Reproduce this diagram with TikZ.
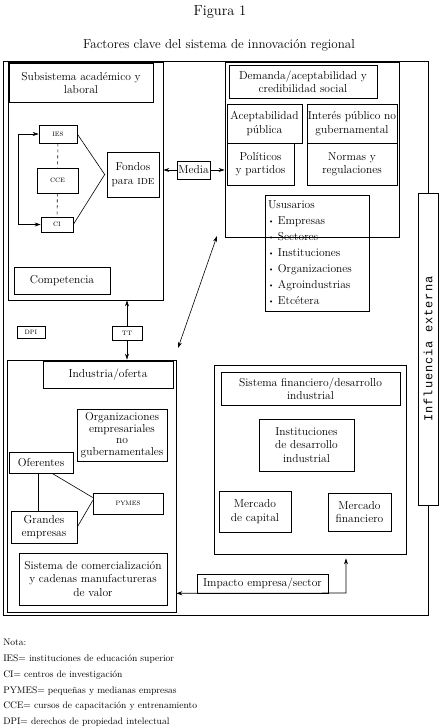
\documentclass[tikz,border=0pt]{standalone}
\usepackage{fontspec}
\newfontfamily\influfont[LetterSpace=8]{Liberation Mono}
\usetikzlibrary{arrows.meta}
\newcommand{\punto}{\raisebox{1.6pt}{\fontsize{7}{7}\selectfont\textbullet}}

\begin{document}
\begin{tikzpicture}[x=1pt,y=-1pt,
  >={Stealth[length=6pt,width=4pt]},
  every path/.style={line width=0.6pt},
  caja/.style={draw,line width=0.6pt,inner sep=0.5pt,align=center,
    font=\fontsize{11.5}{13.5}\selectfont},
  sigla/.style={draw,line width=0.6pt,inner sep=1pt,
    font=\fontsize{8.5}{9}\selectfont},
  marco/.style={draw,line width=0.7pt,inner sep=0pt}]

\useasboundingbox (0,0) rectangle (445,726);

% titulos
\node[font=\fontsize{14.5}{16}\selectfont] (fig) at (220,12) {Figura 1};
\node[font=\fontsize{13}{15}\selectfont] (tit) at (219,45)
      {Factores clave del sistema de innovaci\'on regional};

% influencia externa y marco exterior
\node[caja,minimum width=20,minimum height=312]
      (influ) at (428,349) {\rotatebox{90}{\fontsize{12}{12}\influfont Influencia externa}};
\coordinate (esqA) at (428,61);
\coordinate (esqB) at (3,61);
\coordinate (esqC) at (3,615);
\coordinate (esqD) at (428,615);
\draw (influ.north) -- (esqA) -- (esqB) -- (esqC) -- (esqD) -- (influ.south);

% subsistema academico
\node[marco,minimum width=155,minimum height=238] (acad) at (85.5,181) {};
\node[caja,minimum width=144,minimum height=39]
      (acadt) at (81,83) {Subsistema acad\'emico y\\laboral};
\node[sigla,minimum width=38,minimum height=18] (ies) at (58,134) {\textsc{ies}};
\node[sigla,minimum width=41,minimum height=25] (cce) at (57.5,180.5) {\textsc{cce}};
\node[sigla,minimum width=32,minimum height=15] (ci) at (57,224.5) {\textsc{ci}};
\node[caja,minimum width=52,minimum height=45]
      (fondos) at (133,174.5) {Fondos\\para \textsc{ide}};
\node[caja,minimum width=96,minimum height=27]
      (comp) at (62,280.5) {Competencia};

\coordinate (vert) at ([xshift=-2pt]fondos.west);
\draw[dashed] (ies) -- (cce);
\draw[dashed] (cce) -- (ci);
\draw (ies.east) -- (vert) -- (ci.east);
\draw[<->] (ies.west) -- ++(-20,0) |- (ci.west);

% demanda
\node[marco,minimum width=174,minimum height=175] (dem) at (312,149.5) {};
\node[caja,minimum width=148,minimum height=33]
      (demt) at (303,81.5) {Demanda/aceptabilidad y\\credibilidad social};
\node[caja,minimum width=75,minimum height=39]
      (acep) at (264.5,123.5) {Aceptabilidad\\p\'ublica};
\node[caja,minimum width=90,minimum height=39]
      (inter) at (352,123.5) {Inter\'es p\'ublico no\\gubernamental};
\node[caja,minimum width=67,minimum height=42]
      (poli) at (260.5,164) {Pol\'iticos\\y partidos};
\node[caja,minimum width=90,minimum height=42]
      (normas) at (352,164) {Normas y\\regulaciones};
\node[caja,align=left,text width=99,minimum height=116,inner sep=2.5pt,
      font=\fontsize{11.5}{16}\selectfont]
      (usu) at (317.5,253) {Ususarios\\\punto{} Empresas\\\punto{} Sectores\\
      \punto{} Instituciones\\\punto{} Organizaciones\\
      \punto{} Agroindustrias\\\punto{} Etc\'etera};

% media
\node[caja,minimum width=33,minimum height=18] (media) at (193.5,170) {Media};
\draw[->] (media.west) -- (acad.east |- media.west);
\draw[->] (media.east) -- (dem.west |- media.east);

% enlace diagonal
\coordinate (diagA) at (217,236);
\coordinate (diagB) at (178,348);
\draw[<->] (diagA) -- (diagB);

% TT y DPI
\node[sigla,minimum width=30,minimum height=14] (tt) at (127,333) {\textsc{tt}};
\node[sigla,minimum width=28,minimum height=12] (dpi) at (31,332.5) {\textsc{dpi}};

% industria
\node[marco,minimum width=169,minimum height=252] (indus) at (91.5,486) {};
\draw[->] (tt.north) -- (acad.south -| tt.north);
\draw[->] (tt.south) -- (indus.north -| tt.south);
\node[caja,minimum width=130,minimum height=27]
      (indust) at (108,374.5) {Industria/oferta};
\node[caja,minimum width=90,minimum height=52,font=\fontsize{11.5}{11.7}\selectfont]
      (org) at (122,435) {Organizaciones\\empresariales\\no\\gubernamentales};
\node[caja,minimum width=64,minimum height=21] (ofer) at (41,462.5) {Oferentes};
\node[caja,minimum width=66,minimum height=32]
      (grandes) at (44,527) {Grandes\\empresas};
\node[sigla,minimum width=70,minimum height=21] (pymes) at (128,503.5) {\textsc{pymes}};
\node[caja,minimum width=148,minimum height=52]
      (comer) at (93,579) {Sistema de comercializaci\'on\\y cadenas manufactureras\\de valor};

\draw ([xshift=-3pt]ofer.south) -- ([xshift=-3pt]ofer.south |- grandes.north);
\draw ([xshift=11pt]ofer.south) -- ([yshift=6pt]pymes.west);
\draw (grandes.east) -- ([yshift=3pt]pymes.west);

% sistema financiero
\node[marco,minimum width=192,minimum height=189] (fin) at (310,459.5) {};
\node[caja,minimum width=179,minimum height=33]
      (fint) at (310.5,388.5) {Sistema financiero/desarrollo\\industrial};
\node[caja,minimum width=95,minimum height=52]
      (inst) at (306.5,445) {Instituciones\\de desarrollo\\industrial};
\node[caja,minimum width=72,minimum height=41]
      (mcap) at (255,511.5) {Mercado\\de capital};
\node[caja,minimum width=63,minimum height=38]
      (mfin) at (359.5,512) {Mercado\\financiero};

% impacto
\node[caja,minimum width=131,minimum height=19]
      (impacto) at (262.5,583.5) {Impacto empresa/sector};
\coordinate (codo) at (346,593);
\draw[<->] (indus.east |- impacto.south) -- (codo) -- ([yshift=-4pt]fin.south -| codo);

% notas
\node[anchor=north west,align=left,inner sep=0pt,
      font=\fontsize{9.5}{15.8}\selectfont]
      (nota) at (3,639) {Nota:\\
      IES= instituciones de educaci\'on superior\\
      CI= centros de investigaci\'on\\
      PYMES= peque\~nas y medianas empresas\\
      CCE= cursos de capacitaci\'on y entrenamiento\\
      DPI= derechos de propiedad intelectual};

\end{tikzpicture}
\end{document}
